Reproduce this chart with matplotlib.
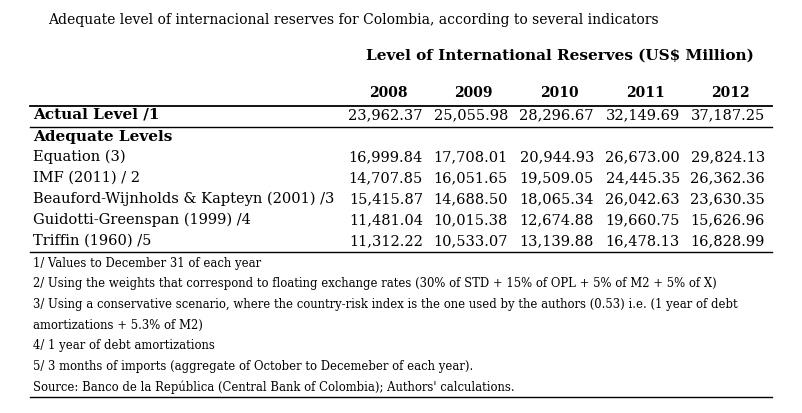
import matplotlib.pyplot as plt

title = "Adequate level of internacional reserves for Colombia, according to several indicators"
header = "Level of International Reserves (US$ Million)"
years = ["2008", "2009", "2010", "2011", "2012"]
actual_label = "Actual Level /1"
actual = ["23,962.37", "25,055.98", "28,296.67", "32,149.69", "37,187.25"]
row_labels = ["Equation (3)", "IMF (2011) / 2", "Beauford-Wijnholds & Kapteyn (2001) /3",
              "Guidotti-Greenspan (1999) /4", "Triffin (1960) /5"]
rows = [
    ["16,999.84", "17,708.01", "20,944.93", "26,673.00", "29,824.13"],
    ["14,707.85", "16,051.65", "19,509.05", "24,445.35", "26,362.36"],
    ["15,415.87", "14,688.50", "18,065.34", "26,042.63", "23,630.35"],
    ["11,481.04", "10,015.38", "12,674.88", "19,660.75", "15,626.96"],
    ["11,312.22", "10,533.07", "13,139.88", "16,478.13", "16,828.99"],
]
notes = [
    "1/ Values to December 31 of each year",
    "2/ Using the weights that correspond to floating exchange rates (30% of STD + 15% of OPL + 5% of M2 + 5% of X)",
    "3/ Using a conservative scenario, where the country-risk index is the one used by the authors (0.53) i.e. (1 year of debt",
    "amortizations + 5.3% of M2)",
    "4/ 1 year of debt amortizations",
    "5/ 3 months of imports (aggregate of October to Decemeber of each year).",
    "Source: Banco de la República (Central Bank of Colombia); Authors' calculations.",
]

W, H = 803, 413
fig = plt.figure(figsize=(W / 100, H / 100), dpi=100)
ax = fig.add_axes([0, 0, 1, 1])
ax.set_xlim(0, W)
ax.set_ylim(H, 0)
ax.axis("off")
plt.rcParams['font.family'] = ['DejaVu Serif']
fam = 'DejaVu Serif'

col_right = [423, 508, 594, 680, 765]
col_center = [r - 35 for r in col_right]
x0, x1 = 30, 772

ax.text(48, 20, title, fontsize=10, family=fam, va='center')
ax.text(560, 56, header, fontsize=11, weight='bold', family=fam, va='center', ha='center')
for c, yr in zip(col_center, years):
    ax.text(c, 93, yr, fontsize=10, weight='bold', family=fam, va='center', ha='center')

ax.plot([x0, x1], [106, 106], color='black', lw=1.3)
ax.text(33, 115, actual_label, fontsize=11, weight='bold', family=fam, va='center')
for r, v in zip(col_right, actual):
    ax.text(r, 115, v, fontsize=10.5, family=fam, va='center', ha='right')
ax.plot([x0, x1], [127, 127], color='black', lw=1.0)
ax.text(33, 137, "Adequate Levels", fontsize=11, weight='bold', family=fam, va='center')

y = 157
for lab, vals in zip(row_labels, rows):
    ax.text(33, y, lab, fontsize=10.5, family=fam, va='center')
    for r, v in zip(col_right, vals):
        ax.text(r, y, v, fontsize=10.5, family=fam, va='center', ha='right')
    y += 21
ax.plot([x0, x1], [252, 252], color='black', lw=1.0)

y = 263
for n in notes:
    ax.text(33, y, n, fontsize=8.4, family=fam, va='center')
    y += 20.7
ax.plot([x0, x1], [397, 397], color='black', lw=1.0)

fig.savefig("out.png", dpi=100)
